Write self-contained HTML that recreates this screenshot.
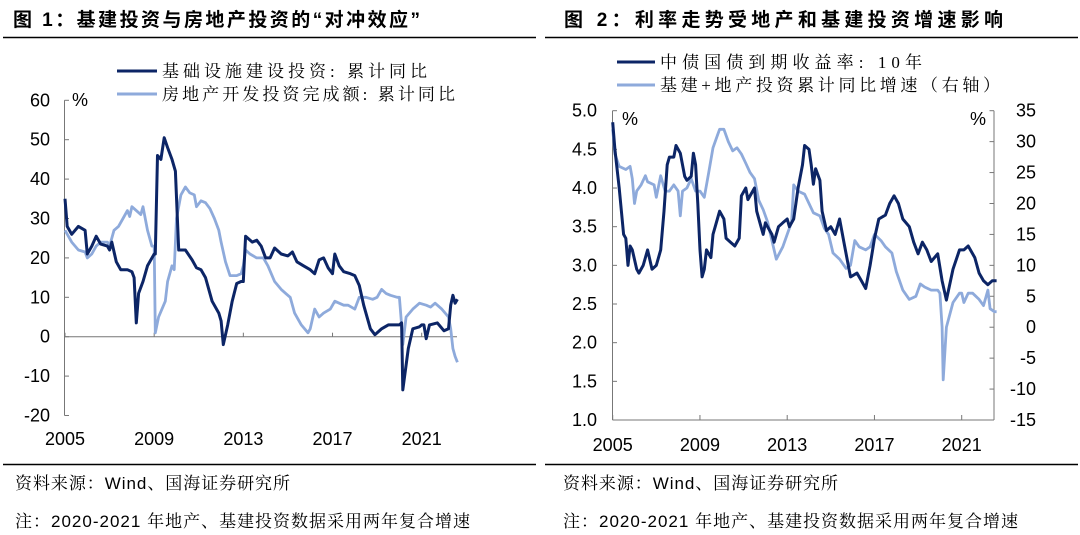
<!DOCTYPE html>
<html><head><meta charset="utf-8"><style>
body{margin:0;background:#fff;width:1080px;height:535px;overflow:hidden;font-family:"Liberation Sans","Noto Sans CJK SC",sans-serif}
svg{position:absolute;left:0;top:0}
</style></head><body>
<svg id="s" width="1080" height="535">
<g>
<text x="13" y="26" font-size="19" font-weight="bold" fill="#000" textLength="407" lengthAdjust="spacing">图 1：基建投资与房地产投资的“对冲效应”</text>
<line x1="3" y1="37.5" x2="536" y2="37.5" stroke="#000" stroke-width="1.5"/>
</g>
<g>
<text x="564" y="26" font-size="19" font-weight="bold" fill="#000" textLength="439" lengthAdjust="spacing">图 2：利率走势受地产和基建投资增速影响</text>
<line x1="545" y1="37.5" x2="1078" y2="37.5" stroke="#000" stroke-width="1.5"/>
</g>
<line x1="3" y1="464.5" x2="536" y2="464.5" stroke="#000" stroke-width="1.5"/>
<line x1="545" y1="464.5" x2="1078" y2="464.5" stroke="#000" stroke-width="1.5"/>
<g font-family="'Liberation Sans','Noto Serif CJK SC',serif" font-size="17" fill="#000">
<text x="15" y="489" textLength="275" lengthAdjust="spacing">资料来源：Wind、国海证券研究所</text>
<text x="15" y="527" textLength="455" lengthAdjust="spacing">注：2020-2021 年地产、基建投资数据采用两年复合增速</text>
<text x="563" y="489" textLength="275" lengthAdjust="spacing">资料来源：Wind、国海证券研究所</text>
<text x="563" y="527" textLength="455" lengthAdjust="spacing">注：2020-2021 年地产、基建投资数据采用两年复合增速</text>
</g>
<g id="c1"></g>
<g id="c2"></g>
</svg>
<script>
// Chart 1 data
const infraDates=[2005.0,2005.1,2005.3,2005.6,2005.9,2006.0,2006.2,2006.4,2006.6,2006.9,2007.0,2007.1,2007.3,2007.5,2007.8,2008.0,2008.1,2008.2,2008.3,2008.5,2008.7,2009.0,2009.05,2009.15,2009.3,2009.45,2009.6,2009.8,2009.95,2010.1,2010.4,2010.7,2010.9,2011.1,2011.3,2011.6,2011.9,2012.0,2012.1,2012.3,2012.5,2012.7,2012.9,2013.0,2013.1,2013.4,2013.6,2013.8,2014.0,2014.2,2014.4,2014.7,2015.0,2015.2,2015.4,2015.7,2016.0,2016.2,2016.4,2016.6,2016.8,2017.0,2017.1,2017.3,2017.5,2017.8,2018.0,2018.2,2018.4,2018.7,2018.9,2019.2,2019.5,2019.8,2020.0,2020.1,2020.15,2020.4,2020.6,2020.9,2021.0,2021.1,2021.2,2021.35,2021.7,2022.0,2022.2,2022.3,2022.4,2022.5,2022.6];
const infraValues=[35,28,26,28,27,21,23,25.5,23.5,23,22,24,19,17,17,16.5,15,3.5,11,14,18,21,21,46,45,50.5,48,45,42,22,22,19.5,17.5,17,15,9,6,4,-2,3,9,13.5,14,14,25.5,24,24.5,23,20,20,22.5,21,20.5,21.5,19,18,17,16,19.5,20,17.5,16,21,18,16.5,16,15.5,13,8,2,0.5,2,3,3,3,3.5,-13.5,-3,2,2.5,3,3,-0.5,3,3.5,1.5,2,8,10.5,8.5,9.5];
const estateDates=[2005.0,2005.3,2005.6,2005.9,2006.0,2006.2,2006.4,2006.6,2006.9,2007.0,2007.2,2007.4,2007.6,2007.8,2007.9,2008.0,2008.2,2008.4,2008.5,2008.7,2008.9,2009.0,2009.05,2009.2,2009.5,2009.6,2009.8,2009.9,2010.0,2010.2,2010.4,2010.6,2010.8,2010.9,2011.1,2011.3,2011.5,2011.7,2011.9,2012.0,2012.2,2012.4,2012.7,2012.9,2013.0,2013.1,2013.3,2013.6,2013.9,2014.1,2014.4,2014.7,2014.9,2015.1,2015.3,2015.6,2015.9,2016.0,2016.2,2016.4,2016.6,2016.9,2017.1,2017.3,2017.5,2017.7,2018.0,2018.2,2018.5,2018.8,2019.0,2019.2,2019.4,2019.6,2019.9,2020.0,2020.1,2020.15,2020.3,2020.6,2020.9,2021.2,2021.4,2021.6,2021.9,2022.2,2022.3,2022.4,2022.5,2022.6];
const estateValues=[27,24,22,21.5,20,21,23,24,24,23,27,28,30,32,30.5,33,32,31,33,27,23,23,1,5,9,14,18,17,30,36,38,36.5,36,33,34.5,34,32.5,30,27,24,19,15.5,15.5,16,18,22,21,20,20,18,14,12,11,10,6,3,1,2,7,5,6,7,9,8.5,8,8,7,10,10,9.5,10,12,11,10.5,10,10,3,-2,5,7,8.5,8,7.5,8.5,7,5,2,-3,-5,-6.5];
const c1YTicks=[60,50,40,30,20,10,0,-10,-20];
const c1XTicks=[2005,2009,2013,2017,2021];
// Chart 2 data
const bondDates=[2005.0,2005.1,2005.3,2005.5,2005.6,2005.7,2005.8,2005.9,2006.1,2006.2,2006.4,2006.6,2006.8,2007.0,2007.2,2007.35,2007.5,2007.6,2007.8,2007.9,2008.1,2008.3,2008.4,2008.6,2008.7,2008.8,2008.9,2009.0,2009.1,2009.2,2009.3,2009.5,2009.6,2009.7,2009.9,2010.1,2010.2,2010.4,2010.6,2010.8,2010.9,2011.1,2011.2,2011.5,2011.6,2011.8,2011.9,2012.0,2012.3,2012.4,2012.6,2012.8,2013.0,2013.1,2013.3,2013.5,2013.7,2013.8,2014.0,2014.1,2014.2,2014.3,2014.5,2014.6,2014.8,2015.0,2015.2,2015.4,2015.6,2015.8,2015.9,2016.2,2016.4,2016.6,2016.8,2017.0,2017.2,2017.5,2017.7,2017.9,2018.1,2018.3,2018.6,2018.8,2019.0,2019.2,2019.4,2019.6,2019.9,2020.1,2020.3,2020.6,2020.9,2021.1,2021.3,2021.6,2021.8,2022.0,2022.2,2022.4,2022.6];
const bondValues=[4.85,4.5,4.0,3.4,3.35,3.0,3.25,3.2,2.95,2.9,3.0,3.2,2.95,3.0,3.2,3.7,4.3,4.4,4.4,4.55,4.45,4.15,4.1,4.15,4.45,4.3,3.8,3.2,2.85,2.95,3.2,3.1,3.4,3.5,3.7,3.6,3.35,3.3,3.25,3.35,3.9,4.0,3.85,4.0,3.7,3.5,3.4,3.55,3.4,3.3,3.5,3.55,3.6,3.5,3.6,4.0,4.3,4.55,4.5,4.3,4.05,4.25,4.1,3.7,3.45,3.5,3.4,3.6,3.3,3.0,2.85,2.9,2.8,2.7,3.0,3.35,3.6,3.65,3.8,3.9,3.8,3.6,3.5,3.3,3.15,3.3,3.2,3.05,3.15,2.8,2.55,2.95,3.2,3.2,3.25,3.1,2.9,2.8,2.75,2.8,2.8];
const invDates=[2005.0,2005.1,2005.3,2005.6,2005.8,2005.9,2006.0,2006.1,2006.3,2006.5,2006.6,2006.9,2007.0,2007.2,2007.4,2007.6,2007.8,2008.0,2008.1,2008.2,2008.4,2008.6,2008.8,2009.0,2009.2,2009.4,2009.6,2009.8,2009.9,2010.1,2010.3,2010.5,2010.7,2010.9,2011.1,2011.3,2011.5,2011.7,2011.9,2012.1,2012.3,2012.5,2012.8,2013.0,2013.2,2013.3,2013.5,2013.8,2014.0,2014.2,2014.5,2014.7,2014.9,2015.1,2015.4,2015.7,2015.9,2016.1,2016.3,2016.6,2016.8,2017.0,2017.3,2017.5,2017.8,2018.0,2018.3,2018.6,2018.9,2019.1,2019.3,2019.6,2019.9,2020.0,2020.1,2020.15,2020.3,2020.6,2020.9,2021.0,2021.1,2021.3,2021.5,2021.8,2022.0,2022.2,2022.3,2022.5,2022.6];
const invValues=[32,28,26,25.5,26,24,20,22,23,24.5,23.5,23,21,24.5,22,22,23,22,18,22,22.5,24,22,22,21,25,29,31,32,32,30,28.5,29,28,26.5,25,24,20.5,19,17,14,11,13,15,17,23,22,21.5,20,18.5,18,16,15,12,11,9.5,10,14,13,12.5,13,15,14,13,12,9,6,4.5,5,7,6.5,6,6,5.5,0,-8.5,0,4,5.5,5.5,4,5.5,5.5,4.5,3.5,6,3,2.5,2.5];
const c2LeftTicks=[5.0,4.5,4.0,3.5,3.0,2.5,2.0,1.5,1.0];
const c2RightTicks=[35,30,25,20,15,10,5,0,-5,-10,-15];
const c2XTicks=[2005,2009,2013,2017,2021];

const NS='http://www.w3.org/2000/svg';
const DARK='#0c2566', LIGHT='#8eaadb';
function mk(parent,tag,attrs){const e=document.createElementNS(NS,tag);for(const k in attrs)e.setAttribute(k,attrs[k]);parent.appendChild(e);return e;}
function txt(parent,x,y,s,anchor,size){const t=mk(parent,'text',{x:x,y:y,'text-anchor':anchor||'start','font-size':size||18,fill:'#000'});t.textContent=s;return t;}
function path(dates,vals,xf,yf){return dates.map((d,i)=>(i?'L':'M')+xf(d).toFixed(1)+','+yf(vals[i]).toFixed(1)).join('');}

// ---- Chart 1
const c1=document.getElementById('c1');
const x1=d=>65+(d-2005)*(421.7-65)/16;
const y1=v=>336.7-v*3.94;
let ax=mk(c1,'line',{x1:64.5,y1:y1(60),x2:64.5,y2:y1(-20),stroke:'#777','stroke-width':1});


c1YTicks.forEach(v=>{
  const l=mk(c1,'line',{x1:64.5,y1:y1(v),x2:69,y2:y1(v),stroke:'#777'});
  
  
  const t=txt(c1,50,y1(v)+6,String(v),'end');
  
  
});
const z=mk(c1,'line',{x1:64.5,y1:y1(0),x2:457,y2:y1(0),stroke:'#777'});


c1XTicks.forEach(d=>{
  const l=mk(c1,'line',{x1:x1(d),y1:y1(0),x2:x1(d),y2:y1(0)-4,stroke:'#777'});
  
  
  const t=txt(c1,x1(d),445,String(d),'middle');
  
  
});
let u=txt(c1,72,106,'%','start');


let p=mk(c1,'path',{d:path(estateDates,estateValues,x1,y1),fill:'none',stroke:LIGHT,'stroke-width':2.8,'stroke-linejoin':'round'});


p=mk(c1,'path',{d:path(infraDates,infraValues,x1,y1),fill:'none',stroke:DARK,'stroke-width':3,'stroke-linejoin':'round'});


[[71,DARK,'基础设施建设投资: 累计同比','legend-infrastructure',265],[94,LIGHT,'房地产开发投资完成额: 累计同比','legend-real-estate',293]].forEach(a=>{
  const g=mk(c1,'g',{});
  
  
  mk(g,'line',{x1:117,y1:a[0],x2:157,y2:a[0],stroke:a[1],'stroke-width':3});
  const t=txt(g,162,a[0]+6,a[2],'start',17);t.setAttribute('font-family',"'Liberation Serif','Noto Serif CJK SC',serif");
  t.setAttribute('textLength',a[4]);t.setAttribute('lengthAdjust','spacing');
});

// ---- Chart 2
const c2=document.getElementById('c2');
const x2=d=>612.7+(d-2005)*(961.7-612.7)/16;
const y2L=v=>110.7+(5-v)*(420-110.7)/4;
const y2R=v=>110.7+(35-v)*(420-110.7)/50;
ax=mk(c2,'line',{x1:612.5,y1:110.7,x2:612.5,y2:420,stroke:'#777'});


ax=mk(c2,'line',{x1:994,y1:110.7,x2:994,y2:420,stroke:'#777'});


ax=mk(c2,'line',{x1:612.5,y1:420,x2:994,y2:420,stroke:'#777'});


c2LeftTicks.forEach(v=>{
  const l=mk(c2,'line',{x1:612.5,y1:y2L(v),x2:617,y2:y2L(v),stroke:'#777'});
  
  
  const t=txt(c2,597,y2L(v)+6,v.toFixed(1),'end');
  
  
});
c2RightTicks.forEach(v=>{
  const l=mk(c2,'line',{x1:989.5,y1:y2R(v),x2:994,y2:y2R(v),stroke:'#777'});
  
  
  const t=txt(c2,1036,y2R(v)+6,String(v),'end');
  
  
});
c2XTicks.forEach(d=>{
  const l=mk(c2,'line',{x1:x2(d),y1:420,x2:x2(d),y2:415,stroke:'#777'});
  
  
  const t=txt(c2,x2(d),451,String(d),'middle');
  
  
});
u=txt(c2,622,125,'%','start');


u=txt(c2,986,125,'%','end');


p=mk(c2,'path',{d:path(invDates,invValues,x2,y2R),fill:'none',stroke:LIGHT,'stroke-width':2.8,'stroke-linejoin':'round'});


p=mk(c2,'path',{d:path(bondDates,bondValues,x2,y2L),fill:'none',stroke:DARK,'stroke-width':3,'stroke-linejoin':'round'});


[[62,DARK,'中债国债到期收益率: 10年','legend-bond-yield',262],[85,LIGHT,'基建+地产投资累计同比增速（右轴）','legend-investment-growth',340]].forEach(a=>{
  const g=mk(c2,'g',{});
  
  
  mk(g,'line',{x1:617,y1:a[0],x2:655,y2:a[0],stroke:a[1],'stroke-width':3});
  const t=txt(g,660,a[0]+6,a[2],'start',17);t.setAttribute('font-family',"'Liberation Serif','Noto Serif CJK SC',serif");
  t.setAttribute('textLength',a[4]);t.setAttribute('lengthAdjust','spacing');
});
</script>
</body></html>
